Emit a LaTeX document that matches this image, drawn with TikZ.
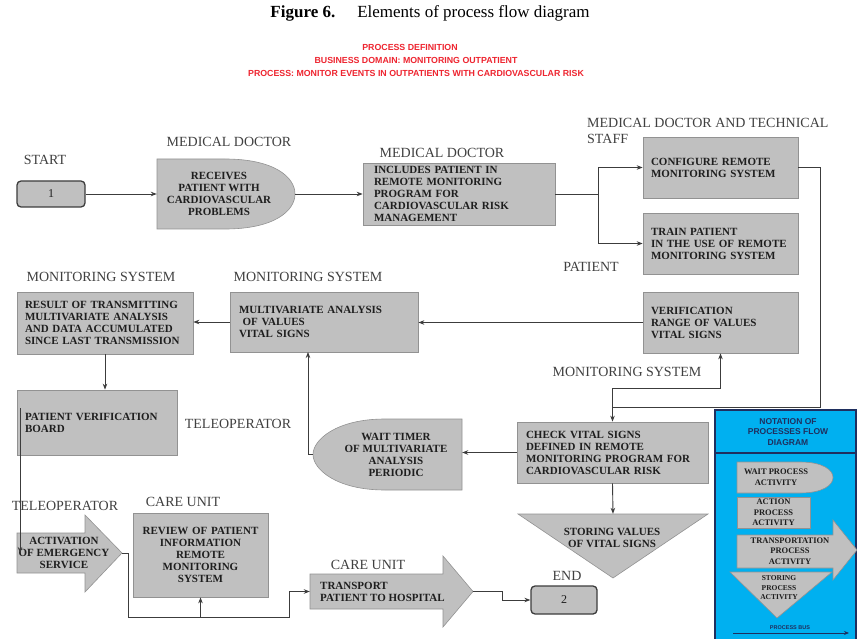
\documentclass[tikz,border=0pt]{standalone}
\usepackage{fontspec}
\setmainfont{Liberation Serif}
\newfontfamily\redsans{Liberation Sans}
\usetikzlibrary{arrows.meta,calc}
\definecolor{boxgray}{HTML}{C0C0C0}
\definecolor{edgegray}{HTML}{929292}
\definecolor{legblue}{HTML}{00B0F0}
\definecolor{legnavy}{HTML}{1F2F5F}
\definecolor{titlered}{HTML}{EE2530}
\definecolor{labelgray}{HTML}{404040}
\definecolor{txtdark}{HTML}{1E1E1E}
\definecolor{linegray}{HTML}{3C3C3C}
\tikzset{
  procbox/.style={draw=edgegray, fill=boxgray, line width=0.7pt, inner ysep=0pt,
    font=\fontsize{11}{12}\selectfont\bfseries, text=txtdark, align=left},
  shapefill/.style={fill=boxgray, draw=edgegray, line width=0.6pt},
  anchorbox/.style={inner sep=0pt},
  boxtext/.style={font=\fontsize{11}{12}\selectfont\bfseries, text=txtdark, align=center, inner sep=0pt},
  lbl/.style={font=\fontsize{14}{15}\selectfont, text=labelgray, inner sep=0pt},
  term/.style={draw=linegray, fill=boxgray, rounded corners=4pt, line width=1.3pt,
    font=\fontsize{12}{12}\selectfont, text=txtdark},
  flow/.style={draw=linegray, line width=0.9pt},
  arr/.style={flow, -{Stealth[length=6pt,width=4.5pt]}},
  legtext/.style={font=\fontsize{8.5}{10.5}\selectfont\bfseries, text=txtdark, align=center, inner sep=0pt},
  redline/.style={font=\redsans\fontsize{8.8}{9}\selectfont\bfseries, text=titlered, inner sep=0pt},
}
\begin{document}
\begin{tikzpicture}[x=1pt,y=-1pt]
\useasboundingbox (0,0) rectangle (857,639);
\fill[white] (0,0) rectangle (857,639);

% ---------- title ----------
\node[font=\fontsize{17}{18}\selectfont, inner sep=0pt] (title) at (430,13)
  {\textbf{Figure 6.}\hspace{22pt}Elements of process flow diagram};
\node[redline] (red1) at (410,47) {PROCESS DEFINITION};
\node[redline] (red2) at (416,60) {BUSINESS DOMAIN: MONITORING OUTPATIENT};
\node[redline] (red3) at (416,73) {PROCESS: MONITOR EVENTS IN OUTPATIENTS WITH CARDIOVASCULAR RISK};

% ---------- labels ----------
\node[lbl] (lstart) at (45,160) {START};
\node[lbl] (lmd1) at (229,142) {MEDICAL DOCTOR};
\node[lbl] (lmd2) at (442,153) {MEDICAL DOCTOR};
\node[lbl, anchor=west] (lmdt) at (587,123) {MEDICAL DOCTOR AND TECHNICAL};
\node[lbl, anchor=west] (lstaff) at (587,139) {STAFF};
\node[lbl] (lpat) at (591,267) {PATIENT};
\node[lbl] (lms1) at (101,277) {MONITORING SYSTEM};
\node[lbl] (lms2) at (308,277) {MONITORING SYSTEM};
\node[lbl] (ltel1) at (238,424) {TELEOPERATOR};
\node[lbl] (lms3) at (627,372) {MONITORING SYSTEM};
\node[lbl] (ltel2) at (65,506) {TELEOPERATOR};
\node[lbl] (lcu1) at (183,502) {CARE UNIT};
\node[lbl] (lcu2) at (368,565) {CARE UNIT};
\node[lbl] (lend) at (567,576) {END};

% ---------- start / end ----------
\node[term, minimum width=68pt, minimum height=26pt] (start) at (51,194) {1};
\node[term, minimum width=66pt, minimum height=28pt] (end) at (564,600) {2};

% ---------- receives (wait, rounded right) ----------
\path[shapefill] (157,159) -- (225,159) .. controls (274,159) and (295,177) .. (295,194)
  .. controls (295,211) and (274,229) .. (225,229) -- (157,229) -- cycle;
\node[anchorbox, minimum width=138pt, minimum height=70pt] (recv) at (226,194) {};
\node[boxtext] (recvtxt) at (219,194) {RECEIVES\\PATIENT WITH\\CARDIOVASCULAR\\PROBLEMS};

% ---------- rectangles ----------
\node[procbox, minimum width=192pt, minimum height=62pt, text width=170pt, inner xsep=11pt] (incl) at (459,194)
  {INCLUDES PATIENT IN\\REMOTE MONITORING\\PROGRAM FOR\\CARDIOVASCULAR RISK\\MANAGEMENT};
\node[procbox, minimum width=155pt, minimum height=61pt, text width=139pt, inner xsep=8pt] (conf) at (720.5,167.5)
  {CONFIGURE REMOTE\\MONITORING SYSTEM};
\node[procbox, minimum width=155pt, minimum height=61pt, text width=139pt, inner xsep=8pt] (train) at (720.5,243.5)
  {TRAIN PATIENT\\IN THE USE OF REMOTE\\MONITORING SYSTEM};
\node[procbox, minimum width=155pt, minimum height=61pt, text width=139pt, inner xsep=8pt] (verif) at (720.5,322.5)
  {VERIFICATION\\RANGE OF VALUES\\VITAL SIGNS};
\node[procbox, minimum width=188pt, minimum height=60pt, text width=170pt, inner xsep=9pt] (multi) at (324,322)
  {MULTIVARIATE ANALYSIS\\\ OF VALUES\\VITAL SIGNS};
\node[procbox, minimum width=176pt, minimum height=62pt, text width=160pt, inner xsep=8pt] (result) at (105,323)
  {RESULT OF TRANSMITTING\\MULTIVARIATE ANALYSIS\\AND DATA ACCUMULATED\\SINCE LAST TRANSMISSION};
\node[procbox, minimum width=160pt, minimum height=65pt, text width=144pt, inner xsep=8pt] (pv) at (97,422.5)
  {PATIENT VERIFICATION\\BOARD};
\node[procbox, minimum width=191pt, minimum height=61pt, text width=173pt, inner xsep=9pt] (check) at (612.5,452.5)
  {CHECK VITAL SIGNS\\DEFINED IN REMOTE\\MONITORING PROGRAM FOR\\CARDIOVASCULAR RISK};
\node[procbox, align=center, minimum width=135pt, minimum height=84pt, text width=127pt, inner xsep=4pt] (review) at (200.5,555)
  {REVIEW OF PATIENT\\INFORMATION\\REMOTE\\MONITORING\\SYSTEM};

% ---------- wait timer (rounded left) ----------
\path[shapefill] (462,419) -- (385,419) .. controls (336,419) and (313,440) .. (313,454.5)
  .. controls (313,469) and (336,490) .. (385,490) -- (462,490) -- cycle;
\node[anchorbox, minimum width=149pt, minimum height=71pt] (wait) at (387.5,454.5) {};
\node[boxtext] (waittxt) at (396,455) {WAIT TIMER\\OF MULTIVARIATE\\ANALYSIS\\PERIODIC};

% ---------- storing triangle ----------
\path[shapefill] (518,514) -- (708,514) -- (613,578) -- cycle;
\node[anchorbox, minimum width=190pt, minimum height=64pt] (stor) at (613,546) {};
\node[boxtext] (stortxt) at (612,538) {STORING VALUES\\OF VITAL SIGNS};

% ---------- activation arrow ----------
\path[shapefill] (17,533) -- (85,533) -- (85,515) -- (122,553) -- (85,592) -- (85,573) -- (17,573) -- cycle;
\node[anchorbox, minimum width=105pt, minimum height=77pt] (act) at (69.5,553) {};
\node[boxtext] (acttxt) at (64,553) {ACTIVATION\\OF EMERGENCY\\SERVICE};

% ---------- transport arrow ----------
\path[shapefill] (310,574) -- (443,574) -- (443,556) -- (473,591.5) -- (443,627) -- (443,609) -- (310,609) -- cycle;
\node[anchorbox, minimum width=163pt, minimum height=71pt] (trans) at (391.5,591.5) {};
\node[boxtext, align=left, anchor=west] (transtxt) at (320,592) {TRANSPORT\\PATIENT TO HOSPITAL};

% ---------- connectors ----------
\draw[arr] (start) -- (recv);
\draw[arr] (recv) -- (incl);
\coordinate (split) at (598,194);
\draw[flow] (incl.east) -- (split);
\draw[arr] (split) |- (conf.west);
\draw[arr] (split) |- (train.west);
\coordinate (jright) at (820,407);
\coordinate (jcheck) at (612.5,407);
\coordinate (jverif) at (612.5,388);
\draw[flow] (conf.east) -| (jright) -- (jcheck);
\draw[arr] (jverif) -- (check.north);
\draw[arr] (jverif) -| (verif.south);
\draw[arr] (verif.west) -- (verif.west -| multi.east);
\draw[arr] (multi.west) -- (multi.west -| result.east);
\draw[arr] (result.south) -- (result.south |- pv.north);
\coordinate (pvline) at (20,408);
\coordinate (actin) at (20,553);
\draw[arr] (pvline) -- (actin);
\coordinate (a1) at (128,553);
\coordinate (a2) at (289,617);
\coordinate (a3) at (200.5,617);
\draw[arr] (act.east) -- (a1) |- (a2) |- (trans.west);
\draw[arr] (a3) -- (review.south);
\coordinate (t1) at (502,591.5);
\draw[arr] (trans.east) -- (t1) |- (end.west);
\draw[arr] (check.west) -- (check.west -| wait.east);
\coordinate (mb) at (308,352);
\draw[arr] (wait.west) -| (mb);
\draw[arr] (check.south) -- (stor.north);

% ---------- legend ----------
\fill[legblue] (714,409) rectangle (857,639);
\draw[legnavy, line width=1.6pt] (714.8,639) -- (714.8,409.8) -- (856.2,409.8) -- (856.2,639);
\draw[legnavy, line width=1.2pt] (714.8,453) -- (856.2,453);
\node[font=\redsans\fontsize{8.5}{10.5}\selectfont\bfseries, text=legnavy, align=center, inner sep=0pt] (legtitle) at (788,432)
  {NOTATION OF\\PROCESSES FLOW\\DIAGRAM};
\path[shapefill] (737,462) -- (800,462) .. controls (823,462) and (833,470) .. (833,477.5)
  .. controls (833,485) and (823,493) .. (800,493) -- (737,493) -- cycle;
\node[legtext] (lgwait) at (776,477) {WAIT PROCESS\\ACTIVITY};
\node[shapefill, legtext, minimum width=73pt, minimum height=31pt] (lgact) at (773.5,512.5) {ACTION\\PROCESS\\ACTIVITY};
\path[shapefill] (737,535) -- (833,535) -- (833,520) -- (857,550) -- (833,580) -- (833,568) -- (737,568) -- cycle;
\node[legtext] (lgtrans) at (790,551) {TRANSPORTATION\\PROCESS\\ACTIVITY};
\path[shapefill] (730,572) -- (832,572) -- (777,618) -- cycle;
\node[legtext, font=\fontsize{7.5}{9.5}\selectfont\bfseries] (lgstor) at (779,588) {STORING\\PROCESS\\ACTIVITY};
\node[font=\redsans\fontsize{5.5}{6}\selectfont\bfseries, text=legnavy, inner sep=0pt] (lgbus) at (790,628) {PROCESS BUS};
\coordinate (bus1) at (733,633);
\coordinate (bus2) at (849,633);
\draw[legnavy, line width=0.8pt, -{Stealth[length=5pt,width=4pt]}] (bus1) -- (bus2);
\end{tikzpicture}
\end{document}
